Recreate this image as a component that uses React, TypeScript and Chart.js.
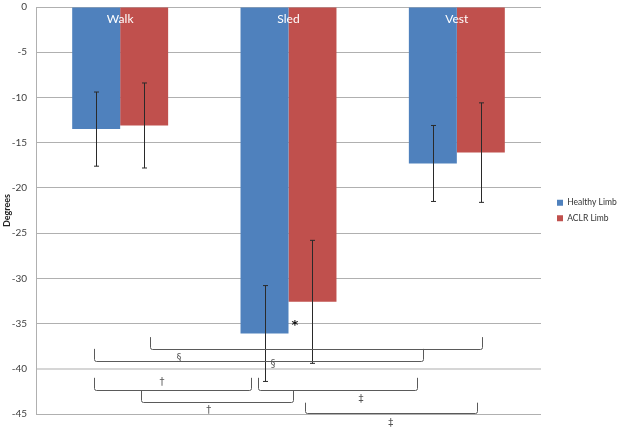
import React, { useEffect, useRef } from "react";
import { Chart, registerables } from "chart.js";

Chart.register(...registerables);

const categories = ["Walk", "Sled", "Vest"];
const seriesNames = ["Healthy Limb", "ACLR Limb"];
const healthyValues = [-13.5, -36.1, -17.3];
const healthyErrors = [4.1, 5.3, 4.2];
const aclrValues = [-13.1, -32.6, -16.1];
const aclrErrors = [4.7, 6.8, 5.5];
const yTicks = [0, -5, -10, -15, -20, -25, -30, -35, -40, -45];

// significance brackets: x in category units (0 = Walk centre), y in degrees
const bracketFrom = [0.177, -0.156, -0.156, 0.819, 0.122, 1.098];
const bracketTo = [2.15, 1.799, 0.775, 1.763, 1.029, 2.118];
const bracketTop = [-36.5, -37.8, -41.0, -41.0, -42.35, -43.75];
const bracketLine = [-37.8, -39.1, -42.35, -42.35, -43.65, -44.9];

// significance symbols
const symbolText = ["§", "§", "†", "‡", "†", "‡", "*"];
const symbolX = [0.349, 0.908, 0.248, 1.431, 0.526, 1.607, 1.038];
const symbolY = [-38.85, -39.5, -41.5, -43.35, -44.6, -46.0, -35.25];

const errorBarPlugin = {
  id: "errorBars",
  afterDatasetsDraw(chart: any) {
    const ctx = chart.ctx;
    const y = chart.scales.y;
    const errs = [healthyErrors, aclrErrors];
    ctx.save();
    ctx.strokeStyle = "#2a2a2a";
    ctx.lineWidth = 1;
    chart.data.datasets.forEach((ds: any, di: number) => {
      const meta = chart.getDatasetMeta(di);
      meta.data.forEach((el: any, i: number) => {
        const v = ds.data[i];
        const e = errs[di][i];
        const x = Math.round(el.x) + 0.5;
        const yt = y.getPixelForValue(v + e);
        const yb = y.getPixelForValue(v - e);
        ctx.beginPath();
        ctx.moveTo(x, yt);
        ctx.lineTo(x, yb);
        ctx.moveTo(x - 2.5, yt);
        ctx.lineTo(x + 2.5, yt);
        ctx.moveTo(x - 2.5, yb);
        ctx.lineTo(x + 2.5, yb);
        ctx.stroke();
      });
    });
    ctx.restore();
  },
};

const annotationPlugin = {
  id: "annotations",
  afterDraw(chart: any) {
    const ctx = chart.ctx;
    const xs = chart.scales.x;
    const ys = chart.scales.y;
    const p0 = xs.getPixelForValue(0);
    const p1 = xs.getPixelForValue(1);
    const px = (t: number) => p0 + t * (p1 - p0);
    ctx.save();
    // category labels inside bars, at top
    ctx.fillStyle = "#ffffff";
    ctx.font = "12px Lato";
    ctx.textAlign = "center";
    ctx.textBaseline = "middle";
    categories.forEach((c, i) => {
      ctx.fillText(c, xs.getPixelForValue(i), chart.chartArea.top + 12);
    });
    // brackets
    ctx.strokeStyle = "#5a5a5a";
    ctx.lineWidth = 1;
    bracketFrom.forEach((f, i) => {
      const xl = Math.round(px(f)) + 0.5;
      const xr = Math.round(px(bracketTo[i])) + 0.5;
      const yt = ys.getPixelForValue(bracketTop[i]);
      const yl = Math.round(ys.getPixelForValue(bracketLine[i])) + 0.5;
      ctx.beginPath();
      ctx.moveTo(xl, yt);
      ctx.lineTo(xl, yl - 2);
      ctx.quadraticCurveTo(xl, yl, xl + 2, yl);
      ctx.lineTo(xr - 2, yl);
      ctx.quadraticCurveTo(xr, yl, xr, yl - 2);
      ctx.lineTo(xr, yt);
      ctx.stroke();
    });
    // symbols
    symbolText.forEach((s, i) => {
      if (s === "*") {
        ctx.fillStyle = "#111111";
        ctx.font = "bold 13px 'DejaVu Sans'";
      } else {
        ctx.fillStyle = "#555555";
        ctx.font = "10px 'DejaVu Sans'";
      }
      ctx.fillText(s, px(symbolX[i]), ys.getPixelForValue(symbolY[i]));
    });
    ctx.restore();
  },
};

export default function App() {
  const canvasRef = useRef<HTMLCanvasElement | null>(null);

  useEffect(() => {
    document.body.style.margin = "0";
    const canvas = canvasRef.current;
    if (!canvas) return;
    const chart = new Chart(canvas, {
      type: "bar",
      data: {
        labels: categories,
        datasets: [
          {
            label: seriesNames[0],
            data: healthyValues,
            backgroundColor: "#4F81BD",
            categoryPercentage: 0.57,
            barPercentage: 1,
          },
          {
            label: seriesNames[1],
            data: aclrValues,
            backgroundColor: "#C0504D",
            categoryPercentage: 0.57,
            barPercentage: 1,
          },
        ],
      },
      options: {
        animation: false,
        responsive: true,
        maintainAspectRatio: false,
        layout: { padding: { top: 7, bottom: 17, left: 0, right: 0 } },
        plugins: {
          tooltip: { enabled: false },
          legend: {
            position: "right",
            maxWidth: 70,
            labels: {
              boxWidth: 6,
              boxHeight: 6,
              padding: 7,
              color: "#333333",
              font: { family: "Lato", size: 8.5 },
            },
          },
        },
        scales: {
          x: {
            display: false,
          },
          y: {
            min: -45,
            max: 0,
            afterBuildTicks: (scale: any) => {
              scale.ticks = yTicks.map((v) => ({ value: v }));
            },
            afterFit: (scale: any) => {
              scale.width = 36;
            },
            ticks: {
              padding: 0,
              color: "#404040",
              font: { family: "Lato", size: 10 },
            },
            grid: {
              drawTicks: true,
              tickLength: 9,
              tickColor: "rgba(0,0,0,0)",
              color: (c: any) => (c.tick && c.tick.value === -40 ? "#d6d6d6" : "#b0b0b0"),
              lineWidth: (c: any) => (c.tick && c.tick.value === -40 ? 2 : 1),
            },
            border: { color: "#b0b0b0" },
            title: {
              display: true,
              text: "Degrees",
              color: "#222222",
              padding: { top: 2, bottom: 0 },
              font: { family: "Lato", size: 9, weight: "bold" },
            },
          },
          gap: {
            type: "linear",
            position: "right",
            display: true,
            grid: { display: false },
            border: { display: false },
            ticks: { display: false },
            afterFit: (scale: any) => {
              scale.width = 9;
            },
          },
        },
      },
      plugins: [errorBarPlugin, annotationPlugin],
    } as any);
    return () => chart.destroy();
  }, []);

  return (
    <div style={{ width: 620, height: 431, position: "relative" }}>
      <canvas ref={canvasRef} />
    </div>
  );
}
